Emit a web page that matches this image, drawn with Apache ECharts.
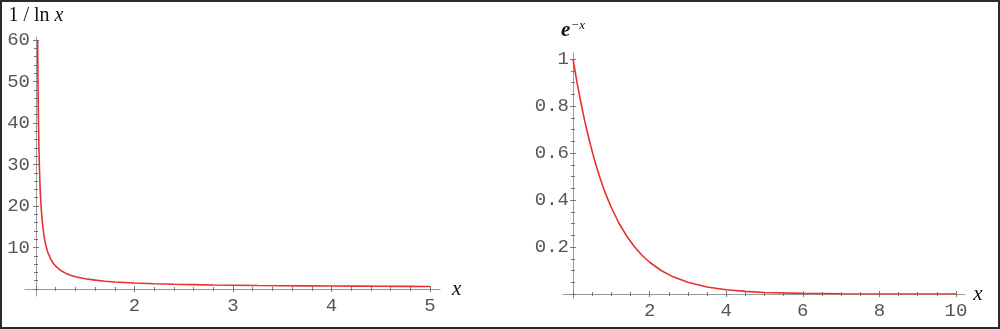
<!DOCTYPE html>
<html>
<head>
<meta charset="utf-8">
<script src="https://cdn.jsdelivr.net/npm/echarts@6/dist/echarts.min.js"></script>
<style>
html,body{margin:0;padding:0;background:#fff;}
#chart{position:absolute;left:0;top:0;width:1000px;height:329px;}
#frame{position:absolute;left:0;top:0;width:1000px;height:329px;box-sizing:border-box;border:2px solid #2b2b2b;pointer-events:none;z-index:5;}
</style>
</head>
<body>
<div id="chart"></div>
<div id="frame"></div>
<script>
// Left panel: 1/ln x
const leftX = [1.0167, 1.02, 1.025, 1.03, 1.035, 1.04, 1.045, 1.05, 1.06, 1.07, 1.08, 1.09, 1.1, 1.12, 1.15, 1.175, 1.2, 1.25, 1.3, 1.35, 1.4, 1.5, 1.6, 1.7, 1.8, 2.0, 2.2, 2.4, 2.6, 2.8, 3.0, 3.25, 3.5, 3.75, 4.0, 4.25, 4.5, 4.75, 5.0];
const leftY = [60, 50.5, 40.5, 33.8, 29.1, 25.5, 22.7, 20.5, 17.2, 14.8, 13.0, 11.6, 10.5, 8.8, 7.2, 6.2, 5.5, 4.5, 3.8, 3.33, 2.97, 2.47, 2.13, 1.88, 1.70, 1.44, 1.27, 1.14, 1.05, 0.97, 0.91, 0.85, 0.80, 0.76, 0.72, 0.69, 0.66, 0.64, 0.62];
// Right panel: e^-x
const rightX = [0, 0.1, 0.2, 0.3, 0.4, 0.5, 0.6, 0.7, 0.8, 0.9, 1.0, 1.2, 1.4, 1.6, 1.8, 2.0, 2.3, 2.6, 3.0, 3.5, 4.0, 4.5, 5, 6, 7, 8, 9, 10];
const rightY = [1, 0.905, 0.819, 0.741, 0.670, 0.607, 0.549, 0.497, 0.449, 0.407, 0.368, 0.301, 0.247, 0.202, 0.165, 0.135, 0.100, 0.074, 0.050, 0.030, 0.018, 0.011, 0.0067, 0.0025, 0.0009, 0.0003, 0.0001, 0.00005];
// Tick labels
const leftXTicks = ['2', '3', '4', '5'];
const leftYTicks = ['10', '20', '30', '40', '50', '60'];
const rightXTicks = ['2', '4', '6', '8', '10'];
const rightYTicks = ['0.2', '0.4', '0.6', '0.8', '1'];

const AXIS = '#9a9a9a';
const TICK = '#777';
const LBL = '#555';
const MONO = 'Liberation Mono';
const SERIF = 'Liberation Serif';

function pairs(xs, ys){ return xs.map((x,i)=>[x, ys[i]]); }
function lab(list){ return v => { const s = String(+v.toFixed(6)); return list.indexOf(s) >= 0 ? s : ''; }; }

function mainX(grid, min, max, interval, split, list, name, gap){
  return {type:'value', gridIndex:grid, min, max, interval, position:'bottom',
    axisLine:{show:true, onZero:false, lineStyle:{color:AXIS, width:1}},
    axisTick:{show:true, length:3, lineStyle:{color:TICK}},
    minorTick:{show:true, splitNumber:split, length:2, lineStyle:{color:TICK}},
    splitLine:{show:false}, minorSplitLine:{show:false},
    axisLabel:{show:true, margin:7, color:LBL, fontFamily:MONO, fontSize:19, formatter:lab(list)},
    name:name, nameLocation:'end', nameGap:gap,
    nameTextStyle:{fontFamily:SERIF, fontStyle:'italic', fontSize:21, color:'#111', padding:[4,0,0,0]}};
}
function twinX(grid, min, max, interval, split){
  return {type:'value', gridIndex:grid, min, max, interval, position:'bottom',
    axisLine:{show:false, onZero:false}, axisLabel:{show:false},
    axisTick:{show:true, inside:true, length:3, lineStyle:{color:TICK}},
    minorTick:{show:true, splitNumber:split, length:2, lineStyle:{color:TICK}},
    splitLine:{show:false}, minorSplitLine:{show:false}};
}
function mainY(grid, min, max, interval, split, list, name, nameStyle, gap, margin){
  return {type:'value', gridIndex:grid, min, max, interval, position:'left',
    axisLine:{show:true, onZero:false, lineStyle:{color:AXIS, width:1}},
    axisTick:{show:true, length:3, lineStyle:{color:TICK}},
    minorTick:{show:true, splitNumber:split, length:2, lineStyle:{color:TICK}},
    splitLine:{show:false}, minorSplitLine:{show:false},
    axisLabel:{show:true, margin:margin, color:LBL, fontFamily:MONO, fontSize:19, formatter:lab(list)},
    name:name, nameLocation:'end', nameGap:gap, nameTextStyle:nameStyle};
}
function twinY(grid, min, max, interval, split){
  return {type:'value', gridIndex:grid, min, max, interval, position:'left',
    axisLine:{show:false, onZero:false}, axisLabel:{show:false},
    axisTick:{show:true, inside:true, length:3, lineStyle:{color:TICK}},
    minorTick:{show:true, splitNumber:split, length:2, lineStyle:{color:TICK}},
    splitLine:{show:false}, minorSplitLine:{show:false}};
}
function lineOnly(type, grid, pos){
  return {type:'value', gridIndex:grid, min:0, max:1, position:pos,
    axisLine:{show:true, onZero:false, lineStyle:{color:AXIS, width:1}},
    axisTick:{show:false}, axisLabel:{show:false}, splitLine:{show:false}};
}
function hidden(grid){
  return {type:'value', gridIndex:grid, min:0, max:1, show:false,
    axisLine:{show:false, onZero:false}, splitLine:{show:false}};
}

const leftNameStyle = {
  color:'#111', align:'center',
  rich:{
    n:{fontFamily:SERIF, fontSize:20, color:'#111'},
    i:{fontFamily:SERIF, fontSize:20, fontStyle:'italic', color:'#111'}
  }
};
const rightNameStyle = {
  color:'#111', align:'center',
  rich:{
    e:{fontFamily:SERIF, fontSize:21, fontStyle:'italic', fontWeight:'bold', color:'#111', lineHeight:22, verticalAlign:'bottom'},
    s:{fontFamily:SERIF, fontSize:13, fontStyle:'italic', color:'#111', lineHeight:22, verticalAlign:'top'}
  }
};

const option = {
  backgroundColor:'#fff',
  animation:false,
  grid:[
    {left:36, top:40, width:394, height:249, outerBoundsMode:'none'},
    {left:25, top:40, width:415, height:249, outerBoundsMode:'none'},
    {left:36, top:37, width:394, height:259, outerBoundsMode:'none'},
    {left:573, top:59, width:383, height:235, outerBoundsMode:'none'},
    {left:563, top:59, width:402, height:235, outerBoundsMode:'none'},
    {left:573, top:53, width:383, height:245, outerBoundsMode:'none'}
  ],
  xAxis:[
    mainX(0, 1, 5, 1, 5, leftXTicks, 'x', 22),
    twinX(0, 1, 5, 1, 5),
    lineOnly('x', 1, 'bottom'),
    hidden(2),
    mainX(3, 0, 10, 2, 4, rightXTicks, 'x', 17),
    twinX(3, 0, 10, 2, 4),
    lineOnly('x', 4, 'bottom'),
    hidden(5)
  ],
  yAxis:[
    mainY(0, 0, 60, 10, 5, leftYTicks, '{n|1 / ln }{i|x}', leftNameStyle, 14, 6),
    twinY(0, 0, 60, 10, 5),
    hidden(1),
    lineOnly('y', 2, 'left'),
    mainY(3, 0, 1, 0.2, 4, rightYTicks, '{e|e}{s|−x}', rightNameStyle, 18, 4),
    twinY(3, 0, 1, 0.2, 4),
    hidden(4),
    lineOnly('y', 5, 'left')
  ],
  series:[
    {type:'line', xAxisIndex:0, yAxisIndex:0, data:pairs(leftX, leftY), showSymbol:false, smooth:false,
      lineStyle:{color:'#e8302e', width:1.6}, z:5},
    {type:'line', xAxisIndex:4, yAxisIndex:4, data:pairs(rightX, rightY), showSymbol:false, smooth:false,
      lineStyle:{color:'#e8302e', width:1.6}, z:5}
  ]
};
const chart = echarts.init(document.getElementById('chart'), null, {renderer:'canvas'});
chart.setOption(option);
</script>
</body>
</html>
